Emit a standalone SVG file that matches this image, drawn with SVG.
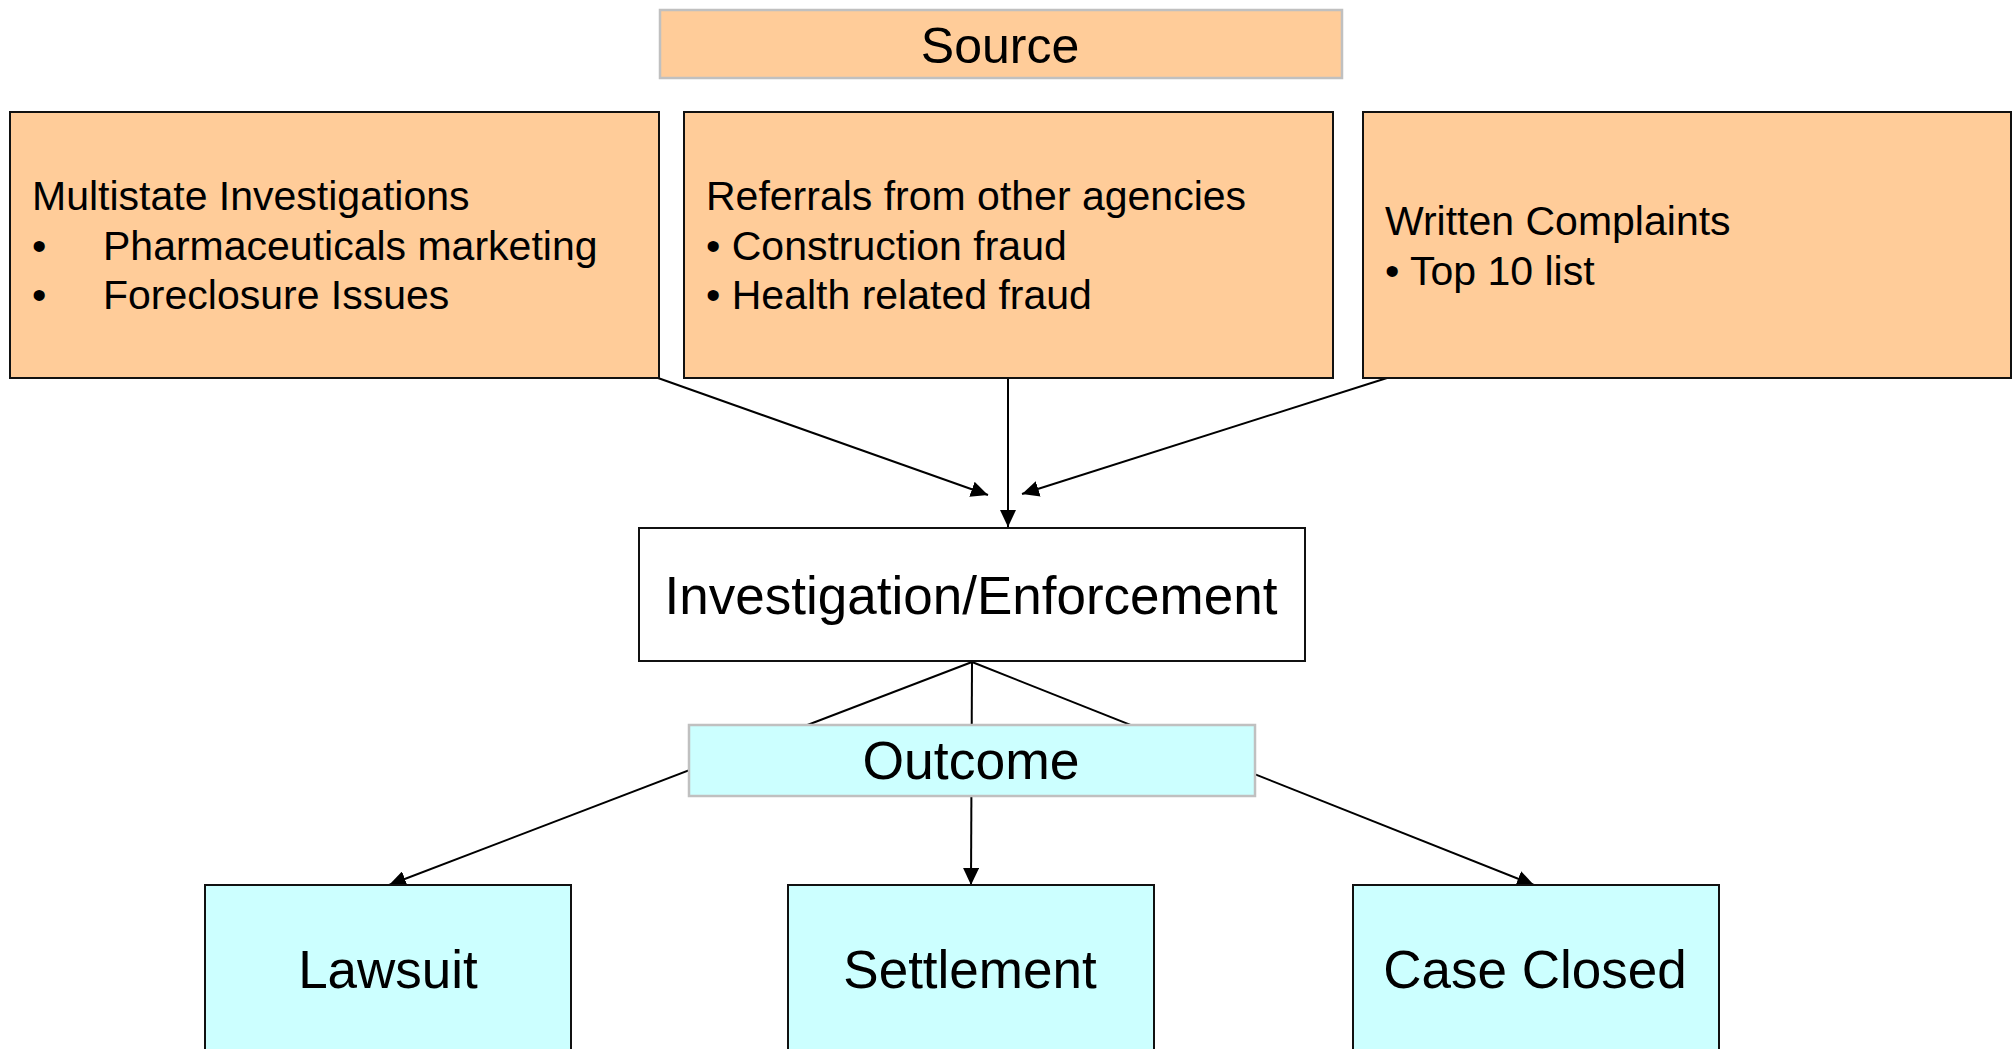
<svg xmlns="http://www.w3.org/2000/svg" width="2015" height="1049" viewBox="0 0 2015 1049">
  <style>
    .src { fill: #FFCC99; stroke: #111; stroke-width: 2; }
    .hdr-src { fill: #FFCC99; stroke: #C0C0C0; stroke-width: 2.5; }
    .hdr-out { fill: #CCFFFF; stroke: #C0C0C0; stroke-width: 2.5; }
    .out { fill: #CCFFFF; stroke: #111; stroke-width: 2; }
    .plain { fill: #FFFFFF; stroke: #111; stroke-width: 2; }
    text { font-family: "Liberation Sans", Arial, Helvetica, sans-serif; fill: #000; }
    .body { font-size: 41px; }
    .big { font-size: 53px; text-anchor: middle; }
    .title { font-size: 50px; text-anchor: middle; }
    .conn line { stroke: #000; stroke-width: 2; fill: none; }
  </style>
  <defs>
    <marker id="arrow" viewBox="0 0 17 16" refX="17" refY="8" markerWidth="17" markerHeight="16" markerUnits="userSpaceOnUse" orient="auto">
      <path d="M0,0 L17,8 L0,16 Z" fill="#000"/>
    </marker>
  </defs>

  <rect width="2015" height="1049" fill="#FFFFFF"/>

  <!-- connectors (drawn first so the Outcome banner sits on top of them) -->
  <g id="connectors" class="conn">
    <line x1="658" y1="378" x2="988" y2="495" marker-end="url(#arrow)"/>
    <line x1="1008" y1="378" x2="1008" y2="527" marker-end="url(#arrow)"/>
    <line x1="1387" y1="378" x2="1022" y2="494" marker-end="url(#arrow)"/>
    <line x1="972" y1="662" x2="389" y2="885" marker-end="url(#arrow)"/>
    <line x1="972" y1="662" x2="971" y2="885" marker-end="url(#arrow)"/>
    <line x1="972" y1="662" x2="1534" y2="885" marker-end="url(#arrow)"/>
  </g>

  <g id="source-header">
    <rect class="hdr-src" x="660" y="10" width="682" height="68"/>
    <text class="title" x="1000" y="63">Source</text>
  </g>

  <g id="multistate">
    <rect class="src" x="10" y="112" width="649" height="266"/>
    <text class="body" x="32" y="210">Multistate Investigations</text>
    <text class="body" x="32" y="260">•</text>
    <text class="body" x="103" y="260">Pharmaceuticals marketing</text>
    <text class="body" x="32" y="309">•</text>
    <text class="body" x="103" y="309">Foreclosure Issues</text>
  </g>

  <g id="referrals">
    <rect class="src" x="684" y="112" width="649" height="266"/>
    <text class="body" x="706" y="210">Referrals from other agencies</text>
    <text class="body" x="706" y="260">• Construction fraud</text>
    <text class="body" x="706" y="309">• Health related fraud</text>
  </g>

  <g id="complaints">
    <rect class="src" x="1363" y="112" width="648" height="266"/>
    <text class="body" x="1385" y="235">Written Complaints</text>
    <text class="body" x="1385" y="285">• Top 10 list</text>
  </g>

  <g id="investigation">
    <rect class="plain" x="639" y="528" width="666" height="133"/>
    <text class="big" x="971" y="614">Investigation/Enforcement</text>
  </g>

  <g id="outcome-header">
    <rect class="hdr-out" x="689" y="725" width="566" height="71"/>
    <text class="big" x="971" y="779" style="font-size:53.5px">Outcome</text>
  </g>

  <g id="lawsuit">
    <rect class="out" x="205" y="885" width="366" height="190"/>
    <text class="big" x="388" y="988">Lawsuit</text>
  </g>

  <g id="settlement">
    <rect class="out" x="788" y="885" width="366" height="190"/>
    <text class="big" x="970" y="988">Settlement</text>
  </g>

  <g id="case-closed">
    <rect class="out" x="1353" y="885" width="366" height="190"/>
    <text class="big" x="1535" y="988">Case Closed</text>
  </g>
</svg>
